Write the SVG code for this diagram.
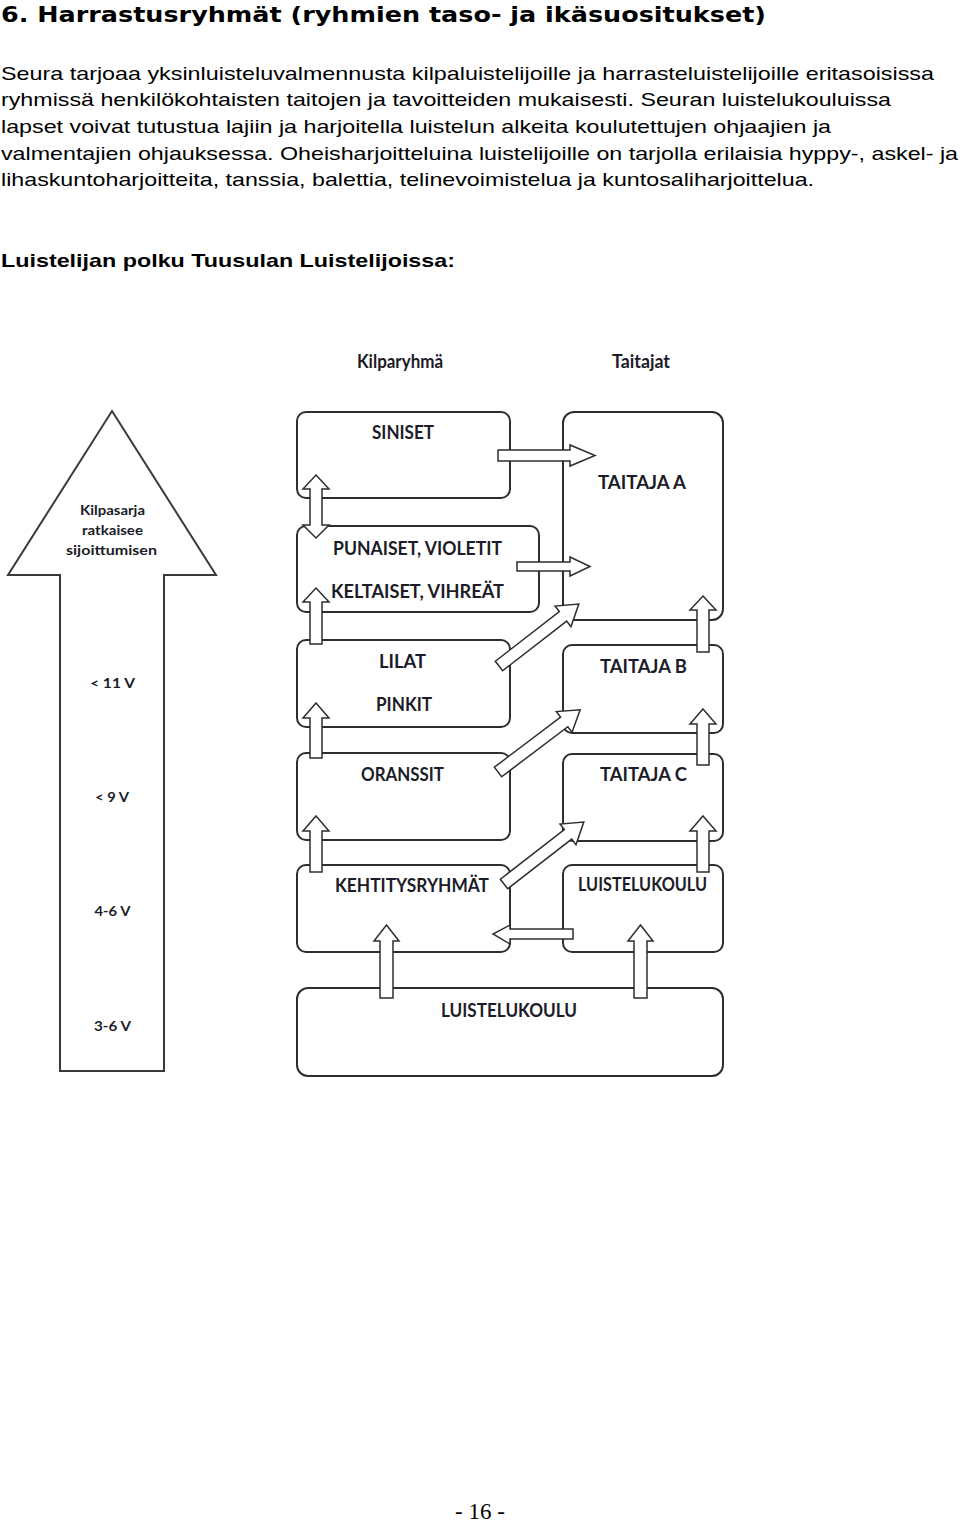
<svg xmlns="http://www.w3.org/2000/svg" width="960" height="1521" viewBox="0 0 960 1521">
<style>
.h{font-family:"DejaVu Sans",Verdana,sans-serif;font-weight:bold;font-size:21px;fill:#000}
.p{font-family:"Liberation Sans",Arial,sans-serif;font-size:19px;fill:#000}
.pb{font-family:"Liberation Sans",Arial,sans-serif;font-size:19px;font-weight:bold;fill:#000}
.f{font-family:"Liberation Serif","Times New Roman",serif;font-size:23px;fill:#000}
.box{fill:#fff;stroke:#2e2e2e;stroke-width:2}
.arr{fill:#fff;stroke:#2e2e2e;stroke-width:1.5;stroke-linejoin:miter}
.big{fill:#fff;stroke:#3a3a3a;stroke-width:2}
.t{font-family:Lato,"Open Sans",sans-serif;font-weight:bold;font-size:18px;fill:#1c1c28;text-anchor:middle}
.ts{font-family:Lato,"Open Sans",sans-serif;font-weight:bold;font-size:14px;fill:#1c1c28;text-anchor:middle}
</style>
<rect width="960" height="1521" fill="#fff"/>
<g id="texts">
<text class="h" x="1" y="22" textLength="765" lengthAdjust="spacingAndGlyphs">6. Harrastusryhmät (ryhmien taso- ja ikäsuositukset)</text>
<text class="p" x="1" y="80" textLength="933" lengthAdjust="spacingAndGlyphs">Seura tarjoaa yksinluisteluvalmennusta kilpaluistelijoille ja harrasteluistelijoille eritasoisissa</text>
<text class="p" x="1" y="106" textLength="890" lengthAdjust="spacingAndGlyphs">ryhmissä henkilökohtaisten taitojen ja tavoitteiden mukaisesti. Seuran luistelukouluissa</text>
<text class="p" x="1" y="133" textLength="830" lengthAdjust="spacingAndGlyphs">lapset voivat tutustua lajiin ja harjoitella luistelun alkeita koulutettujen ohjaajien ja</text>
<text class="p" x="1" y="160" textLength="957" lengthAdjust="spacingAndGlyphs">valmentajien ohjauksessa. Oheisharjoitteluina luistelijoille on tarjolla erilaisia hyppy-, askel- ja</text>
<text class="p" x="1" y="186" textLength="813" lengthAdjust="spacingAndGlyphs">lihaskuntoharjoitteita, tanssia, balettia, telinevoimistelua ja kuntosaliharjoittelua.</text>
<text class="pb" x="1" y="267" textLength="454" lengthAdjust="spacingAndGlyphs">Luistelijan polku Tuusulan Luistelijoissa:</text>
<text class="f" x="480" y="1519" text-anchor="middle">- 16 -</text>
</g>
<g id="age-arrow">
<polygon class="big" points="112,411 216,575 164,575 164,1071 60,1071 60,575 8,575"/>
<text class="ts" x="112.5" y="515" textLength="65" lengthAdjust="spacingAndGlyphs">Kilpasarja</text>
<text class="ts" x="112.5" y="535" textLength="61" lengthAdjust="spacingAndGlyphs">ratkaisee</text>
<text class="ts" x="111.5" y="555" textLength="91" lengthAdjust="spacingAndGlyphs">sijoittumisen</text>
<text class="ts" x="112.5" y="688" textLength="45" lengthAdjust="spacingAndGlyphs">&lt; 11 V</text>
<text class="ts" x="112" y="802" textLength="34" lengthAdjust="spacingAndGlyphs">&lt; 9 V</text>
<text class="ts" x="112.5" y="916" textLength="36" lengthAdjust="spacingAndGlyphs">4-6 V</text>
<text class="ts" x="112.5" y="1031" textLength="37" lengthAdjust="spacingAndGlyphs">3-6 V</text>
</g>
<g id="headers">
<text class="t" x="400" y="368" font-size="16" textLength="86" lengthAdjust="spacingAndGlyphs">Kilparyhmä</text>
<text class="t" x="641" y="368" font-size="16" textLength="58" lengthAdjust="spacingAndGlyphs">Taitajat</text>
</g>
<g id="siniset"><rect class="box" x="297" y="412" width="213" height="86" rx="9"/><text class="t" x="403" y="439" textLength="62" lengthAdjust="spacingAndGlyphs">SINISET</text></g>
<g id="taitaja-a"><rect class="box" x="563" y="412" width="160" height="208" rx="11"/><text class="t" x="642" y="489" textLength="88" lengthAdjust="spacingAndGlyphs">TAITAJA A</text></g>
<g id="punaiset"><rect class="box" x="297" y="526" width="242" height="86" rx="9"/><text class="t" x="417.5" y="555" textLength="169" lengthAdjust="spacingAndGlyphs">PUNAISET, VIOLETIT</text><text class="t" x="417.5" y="598" textLength="173" lengthAdjust="spacingAndGlyphs">KELTAISET, VIHREÄT</text></g>
<g id="lilat"><rect class="box" x="297" y="640" width="213" height="87" rx="9"/><text class="t" x="402.5" y="668" textLength="47" lengthAdjust="spacingAndGlyphs">LILAT</text><text class="t" x="404" y="711" textLength="56" lengthAdjust="spacingAndGlyphs">PINKIT</text></g>
<g id="taitaja-b"><rect class="box" x="563" y="645" width="160" height="88" rx="9"/><text class="t" x="643.5" y="673" textLength="87" lengthAdjust="spacingAndGlyphs">TAITAJA B</text></g>
<g id="oranssit"><rect class="box" x="297" y="753" width="213" height="87" rx="9"/><text class="t" x="402.5" y="781" textLength="83" lengthAdjust="spacingAndGlyphs">ORANSSIT</text></g>
<g id="taitaja-c"><rect class="box" x="563" y="754" width="160" height="87" rx="9"/><text class="t" x="643.5" y="781" textLength="87" lengthAdjust="spacingAndGlyphs">TAITAJA C</text></g>
<g id="kehtitys"><rect class="box" x="297" y="865" width="213" height="87" rx="9"/><text class="t" x="412" y="892" textLength="154" lengthAdjust="spacingAndGlyphs">KEHTITYSRYHMÄT</text></g>
<g id="luistelukoulu-small"><rect class="box" x="563" y="865" width="160" height="87" rx="9"/><text class="t" x="642.5" y="891" font-size="14" textLength="129" lengthAdjust="spacingAndGlyphs">LUISTELUKOULU</text></g>
<g id="luistelukoulu-big"><rect class="box" x="297" y="988" width="426" height="88" rx="11"/><text class="t" x="509" y="1017" textLength="136" lengthAdjust="spacingAndGlyphs">LUISTELUKOULU</text></g>
<g id="connectors">
<polygon class="arr" points="316,475 329,489 322,489 322,525 329,525 316,538 303,525 310,525 310,489 303,489"/>
<polygon class="arr" points="316,588 329,602 322,602 322,644 310,644 310,602 303,602"/>
<polygon class="arr" points="316,703 329,718 322,718 322,758 310,758 310,718 303,718"/>
<polygon class="arr" points="316,816 329,831 322,831 322,872 310,872 310,831 303,831"/>
<polygon class="arr" points="703,596 716,610 709,610 709,652 697,652 697,610 690,610"/>
<polygon class="arr" points="703,709 716,724 709,724 709,765 697,765 697,724 690,724"/>
<polygon class="arr" points="703,816 716,831 709,831 709,872 697,872 697,831 690,831"/>
<polygon class="arr" points="386.5,925 399,941 393,941 393,998 380,998 380,941 374,941"/>
<polygon class="arr" points="640.5,925 653,941 647,941 647,998 634,998 634,941 628,941"/>
<polygon class="arr" points="498,450 570,450 570,445 595,455.5 570,466 570,461 498,461"/>
<polygon class="arr" points="517,562 570,562 570,557 590,566.5 570,576 570,571 517,571"/>
<polygon class="arr" points="573,929 510,929 510,925 493,934 510,944 510,939 573,939"/>
<path class="arr" transform="translate(499,666) rotate(-37.8)" d="M0,-6 H81 V-13 L101,0 L81,13 V6 H0 Z"/>
<path class="arr" transform="translate(498,772) rotate(-37.1)" d="M0,-6 H83 V-13 L103,0 L83,13 V6 H0 Z"/>
<path class="arr" transform="translate(504,884) rotate(-37.8)" d="M0,-6 H81 V-13 L101,0 L81,13 V6 H0 Z"/>
</g>
</svg>
